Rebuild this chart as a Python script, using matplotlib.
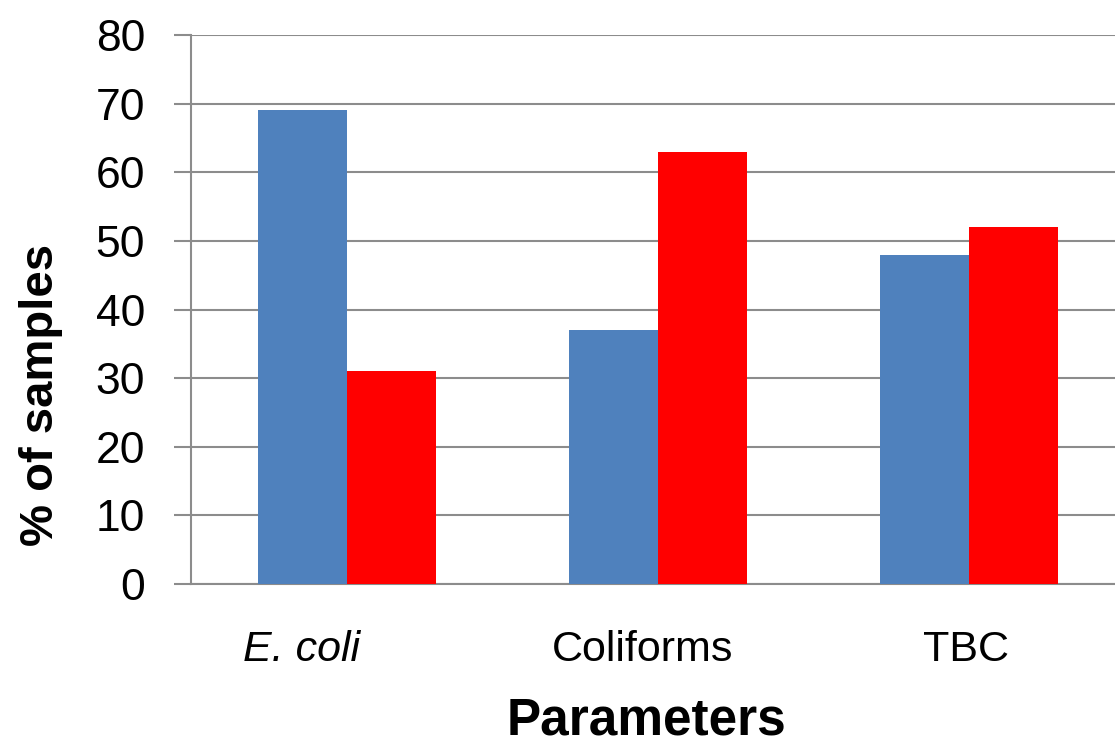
import numpy as np
import matplotlib.pyplot as plt
import matplotlib.transforms as mtransforms

plt.rcParams['font.family'] = ['Liberation Sans', 'DejaVu Sans']

categories = ['E. coli', 'Coliforms', 'TBC']
series_a = [69, 37, 48]
series_b = [31, 63, 52]
yticks = [0, 10, 20, 30, 40, 50, 60, 70, 80]

fig = plt.figure(figsize=(11.15, 7.44), dpi=100)
ax = fig.add_axes([0.1713, 0.215, 0.837, 0.738])

x = np.arange(len(categories))
w = 0.286
ax.bar(x - w/2, series_a, w, color='#4f81bd', zorder=3)
ax.bar(x + w/2, series_b, w, color='#ff0000', zorder=3)

ax.set_xlim(-0.5, 2.5)
ax.set_ylim(0, 80)
ax.set_yticks(yticks)
ax.yaxis.grid(True, color='#8c8c8c', linewidth=1.5, zorder=0)
ax.tick_params(axis='y', length=12, width=1.5, color='#8c8c8c', labelsize=32, pad=21)
ax.tick_params(axis='x', length=0, labelsize=31, pad=33)
ax.set_xticks(x)
ax.set_xticklabels(categories)
ax.get_xticklabels()[0].set_style('italic')

# category labels sit a little left of the bar pairs
shifts = [-0.45, -0.15, -0.03]
for lab, dx in zip(ax.get_xticklabels(), shifts):
    lab.set_transform(lab.get_transform() + mtransforms.ScaledTranslation(dx, 0, fig.dpi_scale_trans))

for s in ['top', 'right']:
    ax.spines[s].set_visible(False)
ax.spines['left'].set_color('#8c8c8c')
ax.spines['left'].set_linewidth(1.5)
ax.spines['bottom'].set_color('#8c8c8c')
ax.spines['bottom'].set_linewidth(1.5)

ax.set_xlabel('Parameters', fontsize=37, fontweight='bold')
ax.set_ylabel('% of samples', fontsize=34, fontweight='bold')
ax.xaxis.set_label_coords(0.488, -0.205)
ax.yaxis.set_label_coords(-0.137, 0.344)

fig.savefig('out.png', dpi=100)
